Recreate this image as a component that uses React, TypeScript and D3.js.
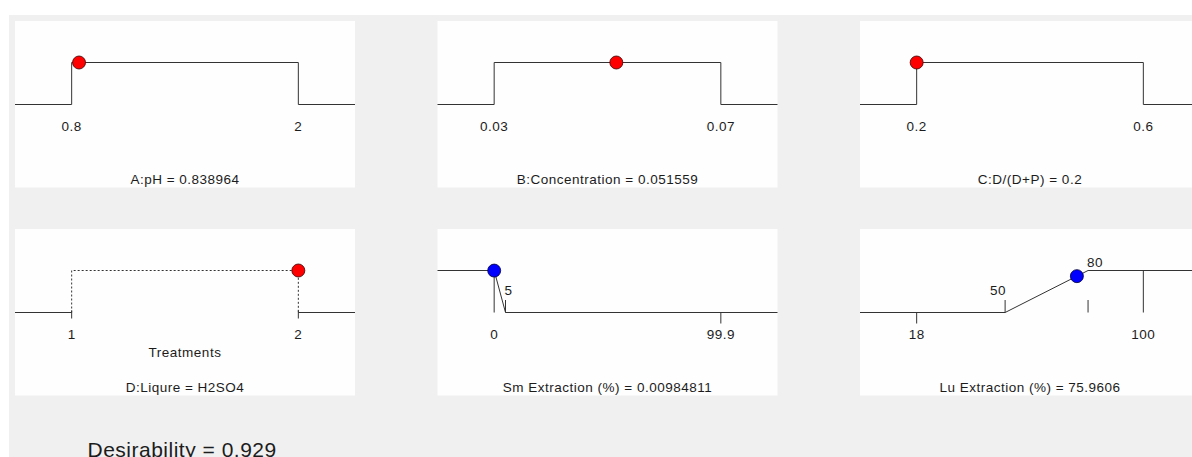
import * as d3 from 'd3';

// Rampes de désirabilité — optimisation numérique
const W = 1192;
const H = 457;

// ── Facteurs numériques ─────────────────────────────
const FACTOR_NAMES = ['A:pH', 'B:Concentration', 'C:D/(D+P)'];
const FACTOR_LOW = [0.8, 0.03, 0.2];
const FACTOR_HIGH = [2, 0.07, 0.6];
const FACTOR_VALUE = [0.838964, 0.051559, 0.2];

// ── Facteur catégoriel ─────────────────────────────
const CAT_NAME = 'D:Liqure';
const CAT_LEVELS = [1, 2];
const CAT_VALUE = 2;
const CAT_VALUE_LABEL = 'H2SO4';
const CAT_AXIS = 'Treatments';

// ── Réponses ───────────────────────────────────────
const RESP_NAMES = ['Sm Extraction (%)', 'Lu Extraction (%)'];
const RESP_MIN = [0, 18];
const RESP_MAX = [99.9, 100];
const RESP_GOAL = ['minimize', 'maximize'];
const RESP_LOWER = [0, 50];
const RESP_UPPER = [5, 80];
const RESP_VALUE = [0.00984811, 75.9606];

const DESIRABILITY = 0.929;

// mise en page
const COL_X = [15, 437.5, 860];
const ROW_Y = [21, 229];
const PW = 340;
const PH = 166.5;
const FONT = '"Liberation Sans", Arial, sans-serif';
const INK = '#1c1c1c';
const LINE = '#333';

function xScale(lo: number, hi: number, left: number) {
  const r = hi - lo;
  return d3.scaleLinear().domain([lo - 0.25 * r, hi + 0.25 * r]).range([left, left + PW]);
}

function levels(top: number) {
  return { lowY: top + 83.5, highY: top + 41.5 };
}

function Label({ x, y, text, anchor = 'middle' }: { x: number; y: number; text: string; anchor?: string }) {
  return (
    <text x={x} y={y} textAnchor={anchor} fontSize={13.5} letterSpacing={0.5} fontFamily={FONT} fill={INK}>
      {text}
    </text>
  );
}

function FactorPanel({ i }: { i: number }) {
  const left = COL_X[i];
  const top = ROW_Y[0];
  const x = xScale(FACTOR_LOW[i], FACTOR_HIGH[i], left);
  const { lowY, highY } = levels(top);
  const x0 = x(FACTOR_LOW[i]);
  const x1 = x(FACTOR_HIGH[i]);
  const line = d3.line<[number, number]>();
  const pts: [number, number][] = [
    [left, lowY], [x0, lowY], [x0, highY], [x1, highY], [x1, lowY], [left + PW, lowY],
  ];
  return (
    <g>
      <rect x={left} y={top} width={PW} height={PH} fill="#fefefe" />
      <path d={line(pts) ?? ''} fill="none" stroke={LINE} strokeWidth={1} />
      <circle cx={x(FACTOR_VALUE[i])} cy={highY} r={6.5} fill="#ff0000" stroke="#3a0000" strokeWidth={0.8} />
      <Label x={x0} y={top + 109.5} text={String(FACTOR_LOW[i])} />
      <Label x={x1} y={top + 109.5} text={String(FACTOR_HIGH[i])} />
      <Label x={left + PW / 2} y={top + 162.7} text={`${FACTOR_NAMES[i]} = ${FACTOR_VALUE[i]}`} />
    </g>
  );
}

function CategoryPanel() {
  const left = COL_X[0];
  const top = ROW_Y[1];
  const x = xScale(CAT_LEVELS[0], CAT_LEVELS[CAT_LEVELS.length - 1], left);
  const { lowY, highY } = levels(top);
  const a = x(CAT_LEVELS[0]);
  const b = x(CAT_LEVELS[CAT_LEVELS.length - 1]);
  const line = d3.line<[number, number]>();
  return (
    <g>
      <rect x={left} y={top} width={PW} height={PH} fill="#fefefe" />
      <path d={line([[left, lowY], [a, lowY]]) ?? ''} fill="none" stroke={LINE} />
      <path d={line([[b, lowY], [left + PW, lowY]]) ?? ''} fill="none" stroke={LINE} />
      <path
        d={line([[a, lowY], [a, highY], [b, highY], [b, lowY]]) ?? ''}
        fill="none" stroke={LINE} strokeDasharray="2,2"
      />
      {CAT_LEVELS.map(l => (
        <g key={l}>
          <line x1={x(l)} x2={x(l)} y1={lowY - 2} y2={lowY + 6} stroke={LINE} />
          <Label x={x(l)} y={top + 109.5} text={String(l)} />
        </g>
      ))}
      <circle cx={x(CAT_VALUE)} cy={highY} r={6.5} fill="#ff0000" stroke="#3a0000" strokeWidth={0.8} />
      <Label x={left + PW / 2} y={top + 127.5} text={CAT_AXIS} />
      <Label x={left + PW / 2} y={top + 162.7} text={`${CAT_NAME} = ${CAT_VALUE_LABEL}`} />
    </g>
  );
}

function desir(j: number, v: number) {
  const L = RESP_LOWER[j];
  const U = RESP_UPPER[j];
  if (RESP_GOAL[j] === 'minimize') return v <= L ? 1 : v >= U ? 0 : (U - v) / (U - L);
  return v <= L ? 0 : v >= U ? 1 : (v - L) / (U - L);
}

function ResponsePanel({ j }: { j: number }) {
  const left = COL_X[j + 1];
  const top = ROW_Y[1];
  const x = xScale(RESP_MIN[j], RESP_MAX[j], left);
  const { lowY, highY } = levels(top);
  const yOf = (d: number) => lowY + d * (highY - lowY);
  const L = RESP_LOWER[j];
  const U = RESP_UPPER[j];
  const pts: [number, number][] = [
    [left, yOf(desir(j, x.invert(left)))],
    [x(L), yOf(desir(j, L))],
    [x(U), yOf(desir(j, U))],
    [left + PW, yOf(desir(j, x.invert(left + PW)))],
  ];
  const line = d3.line<[number, number]>();
  const range = [RESP_MIN[j], RESP_MAX[j]];
  const limits = [L, U].filter(v => !range.includes(v));
  return (
    <g>
      <rect x={left} y={top} width={PW} height={PH} fill="#fefefe" />
      <path d={line(pts) ?? ''} fill="none" stroke={LINE} />
      {range.map(v => {
        const ly = yOf(desir(j, v));
        const atLow = Math.abs(ly - lowY) < 0.5;
        return (
          <g key={'r' + v}>
            <line x1={x(v)} x2={x(v)} y1={ly} y2={atLow ? lowY + 11 : lowY} stroke={LINE} />
            <Label x={x(v)} y={top + 109.5} text={String(v)} />
          </g>
        );
      })}
      {limits.map(v => {
        const d = desir(j, v);
        return (
          <g key={'l' + v}>
            <line x1={x(v)} x2={x(v)} y1={lowY - 12.5} y2={lowY} stroke={LINE} />
            <Label
              x={x(v) + (v === L ? 1 : -1)}
              y={d >= 1 ? highY - 3.7 : lowY - 17.4}
              anchor={v === L ? 'end' : 'start'}
              text={String(v)}
            />
          </g>
        );
      })}
      <circle
        cx={x(RESP_VALUE[j])} cy={yOf(desir(j, RESP_VALUE[j]))} r={6.5}
        fill="#0000ff" stroke="#00003a" strokeWidth={0.8}
      />
      <Label x={left + PW / 2} y={top + 162.7} text={`${RESP_NAMES[j]} = ${RESP_VALUE[j]}`} />
    </g>
  );
}

export default function App() {
  return (
    <div style={{ position: 'fixed', left: 0, top: 0, width: W, height: H, overflow: 'hidden', background: '#fff' }}>
      <svg width={W} height={H} style={{ display: 'block' }}>
        <rect x={0} y={0} width={W} height={H} fill="#ffffff" />
        <rect x={9} y={15} width={W - 9} height={H - 15} fill="#f0f0f0" />
        {FACTOR_NAMES.map((_, i) => <FactorPanel key={i} i={i} />)}
        <CategoryPanel />
        {RESP_NAMES.map((_, j) => <ResponsePanel key={j} j={j} />)}
        <text x={87.5} y={456.5} fontSize={21} letterSpacing={0.5} fontFamily={FONT} fill={INK}>
          {`Desirability = ${DESIRABILITY}`}
        </text>
      </svg>
    </div>
  );
}
